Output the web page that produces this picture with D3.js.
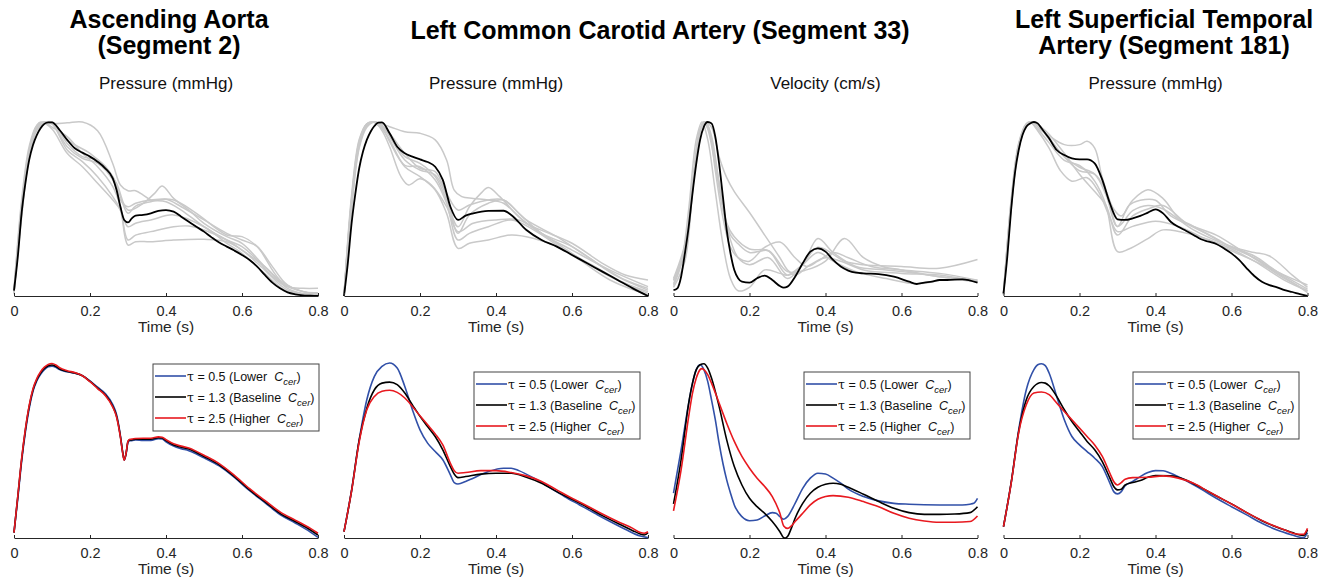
<!DOCTYPE html>
<html lang="en">
<head>
<meta charset="utf-8">
<script src="https://d3js.org/d3.v7.min.js"></script>
<title>Waveforms</title>
<style>
  body { margin: 0; background: #fff; }
  svg { display: block; font-family: 'Liberation Sans', Arial, Helvetica, sans-serif; }
</style>
</head>
<body>
<svg width="1331" height="582"></svg>
<script>

// ---------- data (time in s, amplitude normalised 0-100) ----------
var timeTicks = [0, 0.2, 0.4, 0.6, 0.8];
var tauValues = ["0.5", "1.3", "2.5"];
var tauNames = ["Lower", "Baseline", "Higher"];

// Ascending aorta pressure: grey = reference waveforms, black = model
var aortaPressRef = [
  [[0,3],[0.02,52],[0.04,84],[0.06,97],[0.08,100],[0.1,99],[0.14,99.5],[0.18,100],[0.22,95],[0.26,76],[0.28,63.8],[0.3,60.5],[0.32,60.5],[0.34,58],[0.36,55.2],[0.4,54.2],[0.44,49.4],[0.5,39.8],[0.56,32.2],[0.6,28.4],[0.64,20.7],[0.68,11.1],[0.72,5.4],[0.76,4.4],[0.8,4.4]],
  [[0,2],[0.02,48],[0.04,82],[0.06,96],[0.08,99.5],[0.1,100],[0.14,89.7],[0.2,82],[0.24,74.3],[0.27,64.8],[0.3,49.4],[0.34,53.3],[0.37,59],[0.39,63.2],[0.42,56.1],[0.46,49.4],[0.5,41.8],[0.56,34.1],[0.6,30.3],[0.66,16.9],[0.72,4.4],[0.76,1.5],[0.8,1.1]],
  [[0,1],[0.02,50],[0.04,83],[0.06,97],[0.08,100],[0.1,99],[0.14,83.9],[0.18,77.2],[0.22,68.6],[0.26,57.1],[0.28,49.4],[0.3,29.3],[0.32,31.2],[0.36,31.2],[0.42,32.2],[0.5,32.6],[0.56,31.2],[0.6,26.4],[0.66,14.9],[0.72,3.4],[0.8,0.6]],
  [[0,4],[0.02,55],[0.04,86],[0.06,98],[0.08,100],[0.1,97],[0.14,91.6],[0.18,82],[0.22,74.3],[0.26,62.8],[0.28,51.3],[0.3,32.2],[0.32,35],[0.36,37],[0.42,39.8],[0.46,40.2],[0.5,37.9],[0.56,32.2],[0.6,26.4],[0.66,16.9],[0.72,5.4],[0.8,1.1]],
  [[0,2],[0.02,45],[0.04,80],[0.06,95],[0.08,99],[0.1,100],[0.14,87.7],[0.18,80.1],[0.22,78.2],[0.26,68.6],[0.28,57.1],[0.3,47.5],[0.32,51.7],[0.36,54.2],[0.4,55.6],[0.44,51.3],[0.5,43.7],[0.56,36],[0.6,32.2],[0.64,28.4],[0.68,16.9],[0.72,6.3],[0.8,0.6]],
  [[0,3],[0.02,50],[0.04,84],[0.06,98],[0.07,100],[0.1,96],[0.14,82],[0.18,74.3],[0.22,64.8],[0.26,55.2],[0.28,49.4],[0.3,39.8],[0.32,41.8],[0.36,43.7],[0.42,46.6],[0.5,39.8],[0.56,30.3],[0.6,24.5],[0.66,13],[0.72,2.5],[0.8,0.6]],
  [[0,2],[0.02,47],[0.04,81],[0.06,96],[0.08,100],[0.1,99],[0.14,85.8],[0.18,79.1],[0.22,76.2],[0.26,66.7],[0.28,55.2],[0.3,51.3],[0.32,53.3],[0.36,55.2],[0.42,55.2],[0.48,47.5],[0.56,35.1],[0.6,34.1],[0.64,28.4],[0.7,9.2],[0.76,2.5],[0.8,1.9]]
];
var aortaPressSim = [[0,3.1],[0.01,22.6],[0.02,47.5],[0.03,64.8],[0.04,78.2],[0.05,86.8],[0.06,92.5],[0.07,96.4],[0.08,98.9],[0.09,99.8],[0.1,99.8],[0.12,95.4],[0.14,89.7],[0.16,84.9],[0.18,82.4],[0.2,80.1],[0.22,77.2],[0.24,73.4],[0.26,67.6],[0.27,60.9],[0.28,51.3],[0.29,43.7],[0.3,42.3],[0.31,44.6],[0.32,46.2],[0.34,46.6],[0.36,47.5],[0.38,48.9],[0.4,49.4],[0.42,48.5],[0.44,45.6],[0.46,42.7],[0.48,39.8],[0.5,37],[0.52,33.7],[0.54,30.7],[0.56,28.4],[0.58,26.1],[0.6,23.6],[0.62,20.7],[0.64,16.9],[0.66,12.1],[0.68,7.7],[0.7,4.4],[0.72,2.1],[0.74,1],[0.76,0.4],[0.78,0.2],[0.8,0]];

// Left common carotid pressure
var carotidPressRef = [
  [[0,0],[0.02,58],[0.04,90],[0.06,99],[0.08,100],[0.12,97.3],[0.16,94.4],[0.2,93.5],[0.24,89.7],[0.27,78.2],[0.29,60.9],[0.31,57.1],[0.34,56.1],[0.38,55.2],[0.42,53.3],[0.48,41.8],[0.54,36],[0.6,30.3],[0.68,18.8],[0.74,12.1],[0.8,9.2]],
  [[0,0],[0.02,52],[0.04,86],[0.06,98],[0.08,100],[0.1,97],[0.12,92.5],[0.16,80.1],[0.2,76.2],[0.24,68.6],[0.27,55.2],[0.3,39.8],[0.33,51.3],[0.36,59],[0.38,62.3],[0.41,57.1],[0.46,45.6],[0.52,36],[0.6,28.4],[0.68,16.9],[0.74,9.2],[0.8,4.4]],
  [[0,0],[0.02,56],[0.04,89],[0.06,99],[0.075,100],[0.1,96],[0.12,89.7],[0.16,74.3],[0.2,68.6],[0.24,60.9],[0.27,47.5],[0.3,27.4],[0.33,30.3],[0.38,32.2],[0.44,35.1],[0.5,33.1],[0.56,28.4],[0.62,20.7],[0.7,9.2],[0.8,0.6]],
  [[0,0],[0.02,54],[0.04,87],[0.06,98],[0.08,100],[0.1,95],[0.12,85.8],[0.15,68.6],[0.17,63.8],[0.2,67.4],[0.23,63.8],[0.27,51.3],[0.3,37],[0.34,41.8],[0.4,43.7],[0.46,43.7],[0.52,36],[0.6,24.5],[0.7,11.1],[0.8,1.5]],
  [[0,0],[0.02,50],[0.04,85],[0.06,97],[0.08,100],[0.1,98],[0.12,91.6],[0.16,78.2],[0.2,72.4],[0.24,69.5],[0.27,57.1],[0.3,36],[0.33,46.6],[0.38,53.3],[0.42,55.2],[0.46,47.5],[0.52,36],[0.6,26.4],[0.7,14.9],[0.8,5.4]],
  [[0,0],[0.02,53],[0.04,87],[0.06,98],[0.08,100],[0.1,97],[0.12,88.7],[0.16,75.1],[0.2,74.3],[0.24,66.7],[0.27,53.3],[0.3,32.2],[0.33,36],[0.38,39.8],[0.44,43.7],[0.5,37.9],[0.58,26.4],[0.66,16.9],[0.74,7.3],[0.8,2.5]],
  [[0,0],[0.02,55],[0.04,88],[0.06,99],[0.08,100],[0.1,98],[0.12,93.5],[0.16,82],[0.2,73.4],[0.24,71.5],[0.27,59],[0.3,49.4],[0.33,52.3],[0.38,55.2],[0.42,55.2],[0.48,43.7],[0.56,34.1],[0.64,22.6],[0.72,11.1],[0.8,3.4]]
];
var carotidPressSim = [[0,0],[0.01,18.8],[0.02,41.8],[0.03,59],[0.04,73.4],[0.05,83],[0.06,89.7],[0.07,94.4],[0.08,97.7],[0.09,99.6],[0.1,99.8],[0.12,93.5],[0.14,85.8],[0.16,82],[0.18,80.1],[0.2,78.5],[0.22,77],[0.24,74.3],[0.26,66.7],[0.28,51.3],[0.3,43.7],[0.32,46.2],[0.34,47.5],[0.38,48.9],[0.42,49],[0.44,46.6],[0.48,37.9],[0.52,32.2],[0.56,28.4],[0.6,23.6],[0.64,18.8],[0.68,14],[0.72,9.2],[0.76,4.4],[0.8,0]];

// Left common carotid velocity
var carotidVelRef = [
  [[0,9],[0.03,25],[0.06,80],[0.08,100],[0.1,97],[0.12,80],[0.14,68],[0.16,60],[0.2,48],[0.24,35],[0.28,22],[0.3,15],[0.32,12],[0.36,18],[0.4,22],[0.44,20],[0.5,15],[0.6,13],[0.7,12],[0.8,8]],
  [[0,5],[0.03,20],[0.05,60],[0.07,95],[0.08,100],[0.09,96],[0.11,75],[0.13,50],[0.15,35],[0.17,30],[0.2,25],[0.25,26],[0.3,14],[0.35,15],[0.4,20],[0.45,33],[0.5,22],[0.55,17],[0.6,15],[0.7,11],[0.8,8]],
  [[0,10],[0.03,30],[0.05,65],[0.07,95],[0.085,100],[0.1,92],[0.12,65],[0.14,40],[0.17,22],[0.2,18],[0.25,22],[0.3,10],[0.34,18],[0.38,28],[0.45,20],[0.5,18],[0.6,17],[0.7,16],[0.8,21]],
  [[0,9],[0.03,28],[0.05,62],[0.07,96],[0.08,100],[0.095,94],[0.11,72],[0.13,45],[0.15,28],[0.17,22],[0.2,20],[0.24,28],[0.28,31],[0.32,22],[0.35,17],[0.38,20],[0.42,25],[0.46,22],[0.52,17],[0.6,15],[0.7,13],[0.8,9]],
  [[0,6],[0.02,18],[0.04,50],[0.06,90],[0.075,100],[0.09,90],[0.11,60],[0.13,30],[0.15,10],[0.17,3],[0.2,5],[0.24,15],[0.28,13],[0.3,12],[0.34,18],[0.38,25],[0.42,20],[0.48,14],[0.56,10],[0.64,7],[0.7,9]],
  [[0,7],[0.03,26],[0.05,63],[0.07,96],[0.085,100],[0.1,90],[0.12,65],[0.14,42],[0.16,34],[0.2,27],[0.25,26],[0.3,12],[0.34,18],[0.38,33],[0.42,25],[0.48,17],[0.56,15],[0.64,13],[0.7,11],[0.75,10],[0.8,9]]
];
var carotidVelSim = [[0,3.4],[0.01,4.4],[0.02,11.1],[0.03,24.5],[0.04,39.8],[0.05,59],[0.06,76.2],[0.07,89.7],[0.08,97.3],[0.09,100],[0.1,99.2],[0.11,91.6],[0.12,76.2],[0.13,57.1],[0.14,37.9],[0.15,24.5],[0.16,14.9],[0.17,10.2],[0.18,8.2],[0.2,7.7],[0.22,10.2],[0.24,11.7],[0.26,9.2],[0.28,5.7],[0.29,4.8],[0.3,5.4],[0.32,11.1],[0.34,18.8],[0.36,25.5],[0.38,27.4],[0.4,25.5],[0.42,20.7],[0.44,16.9],[0.46,14.6],[0.48,13.4],[0.5,13],[0.54,12.6],[0.58,11.1],[0.62,8.2],[0.64,6.9],[0.66,7.7],[0.68,8.2],[0.7,9.2],[0.72,9.2],[0.76,9.6],[0.8,7.7]];

// Left superficial temporal pressure
var temporalPressRef = [
  [[0,1],[0.02,55],[0.04,88],[0.06,99],[0.075,100],[0.1,95],[0.12,92],[0.16,87],[0.2,87],[0.22,88.9],[0.24,85],[0.26,68],[0.29,50],[0.31,46],[0.34,55],[0.38,61],[0.42,56],[0.46,45],[0.5,40],[0.56,33],[0.6,28],[0.66,22],[0.72,14],[0.8,6.3]],
  [[0,1],[0.02,50],[0.04,85],[0.06,98],[0.07,100],[0.09,96],[0.12,88],[0.16,78],[0.2,75],[0.24,66],[0.27,52],[0.3,25.5],[0.33,27],[0.38,33],[0.42,38],[0.5,35],[0.58,29],[0.66,20],[0.74,9],[0.8,3]],
  [[0,1],[0.02,52],[0.04,86],[0.06,98],[0.08,100],[0.1,96],[0.12,90],[0.16,80],[0.2,72],[0.24,70],[0.27,60],[0.3,40],[0.33,52],[0.36,55],[0.4,55],[0.44,46],[0.5,40],[0.56,35],[0.62,27],[0.7,16],[0.78,5],[0.8,2]],
  [[0,1],[0.02,54],[0.04,87],[0.06,99],[0.07,100],[0.09,95],[0.12,85],[0.15,72],[0.18,66],[0.22,68],[0.25,60],[0.28,45],[0.3,37],[0.34,40],[0.4,43],[0.46,40],[0.52,34],[0.6,26],[0.68,18],[0.74,10],[0.8,3]],
  [[0,1],[0.02,51],[0.04,85],[0.06,98],[0.08,100],[0.1,97],[0.12,93],[0.16,82],[0.2,70],[0.24,60],[0.27,52],[0.3,35],[0.34,46],[0.38,50],[0.42,52],[0.48,42],[0.54,35],[0.6,28],[0.66,23],[0.72,14],[0.8,4]],
  [[0,1],[0.02,53],[0.04,87],[0.06,98],[0.08,100],[0.1,96],[0.12,91],[0.16,80],[0.2,74],[0.24,70],[0.27,58],[0.3,40],[0.34,49],[0.38,52],[0.42,50],[0.5,38],[0.58,30],[0.62,27],[0.66,25],[0.7,23],[0.76,12],[0.8,5]]
];
var temporalPressSim = [[0,1.5],[0.01,22.6],[0.02,49.4],[0.03,70.5],[0.04,83.9],[0.05,92.5],[0.06,97.3],[0.07,99.2],[0.08,100],[0.09,99.2],[0.1,96.4],[0.12,90.6],[0.14,83.9],[0.16,81],[0.18,79.1],[0.2,78.5],[0.22,78.5],[0.24,76.2],[0.26,66.7],[0.28,53.3],[0.3,44.1],[0.32,43.7],[0.34,44.6],[0.36,46],[0.38,47.9],[0.4,49.8],[0.42,47.5],[0.44,42.7],[0.46,39.8],[0.48,37.5],[0.5,35.1],[0.52,32.6],[0.54,31.2],[0.56,29.9],[0.58,27.4],[0.6,24.5],[0.62,20.7],[0.64,15.9],[0.66,11.5],[0.68,8.2],[0.7,6.3],[0.72,5],[0.74,3.4],[0.76,2.3],[0.78,1.1],[0.8,0]];

// Bottom row: tau = 0.5 / 1.3 / 2.5
var aortaTau05 = [[0,3.1],[0.01,22.5],[0.02,43.5],[0.03,60.5],[0.04,74],[0.05,83.8],[0.06,89.8],[0.07,93.6],[0.08,96.2],[0.09,97.8],[0.1,98.2],[0.11,97.6],[0.12,96.2],[0.14,95],[0.16,94.2],[0.18,92.8],[0.2,89.8],[0.22,86.2],[0.24,82.6],[0.26,76.2],[0.27,70.5],[0.28,58.5],[0.285,50.5],[0.29,44.5],[0.295,48],[0.3,54.5],[0.305,55.6],[0.31,55.6],[0.32,56],[0.34,55.8],[0.36,55.8],[0.38,56.8],[0.39,56.6],[0.4,55],[0.42,52.5],[0.44,51],[0.46,49.9],[0.48,48],[0.5,45.8],[0.54,41.2],[0.58,34.6],[0.62,27],[0.66,20.2],[0.7,13.4],[0.74,8.6],[0.78,3.4],[0.8,0.4]];
var aortaTau13 = [[0,3.1],[0.01,23.7],[0.02,44.7],[0.03,61.8],[0.04,75.2],[0.05,84.7],[0.06,90.5],[0.07,94.3],[0.08,96.9],[0.09,98.5],[0.1,98.9],[0.11,98.1],[0.12,96.6],[0.14,95.2],[0.16,94.3],[0.18,92.7],[0.2,89.5],[0.22,85.7],[0.24,81.9],[0.26,75.2],[0.27,69.5],[0.28,58],[0.285,50.4],[0.29,44.7],[0.295,48.5],[0.3,55.2],[0.305,56.1],[0.31,56.1],[0.32,56.5],[0.34,56.5],[0.36,56.5],[0.38,57.3],[0.39,57.1],[0.4,55.7],[0.42,53.2],[0.44,51.9],[0.46,50.8],[0.48,48.9],[0.5,46.6],[0.54,41.8],[0.58,35.1],[0.62,27.5],[0.66,20.8],[0.7,14.1],[0.74,9.4],[0.78,4.6],[0.8,1.7]];
var aortaTau25 = [[0,3.1],[0.01,24],[0.02,45.2],[0.03,62.4],[0.04,75.8],[0.05,85.3],[0.06,91.1],[0.07,95],[0.08,97.6],[0.09,99.2],[0.1,99.7],[0.11,98.9],[0.12,97.3],[0.14,95.6],[0.16,94.5],[0.18,92.7],[0.2,89.3],[0.22,85.4],[0.24,81.5],[0.26,74.8],[0.27,69],[0.28,57.6],[0.285,50],[0.29,44.4],[0.295,48.5],[0.3,55.4],[0.305,56.4],[0.31,56.5],[0.32,56.9],[0.34,57],[0.36,57],[0.38,57.8],[0.39,57.6],[0.4,56.2],[0.42,53.8],[0.44,52.5],[0.46,51.4],[0.48,49.5],[0.5,47.3],[0.54,42.5],[0.58,35.8],[0.62,28.2],[0.66,21.5],[0.7,14.9],[0.74,10.2],[0.78,5.5],[0.8,2.7]];

var carotidPressTau05 = [[0,3.6],[0.02,27.5],[0.04,56.1],[0.06,79],[0.08,92.4],[0.1,98.1],[0.12,100],[0.14,97.1],[0.16,86.6],[0.18,73.3],[0.2,61.8],[0.22,54.2],[0.24,49.4],[0.26,44.7],[0.28,36.1],[0.29,31.7],[0.3,30.9],[0.32,32.3],[0.34,34.2],[0.38,38],[0.42,39.9],[0.44,39.9],[0.46,38.5],[0.5,34.2],[0.54,29],[0.58,23.7],[0.62,18.9],[0.66,14.1],[0.7,9.4],[0.74,5],[0.78,1.1],[0.8,0.2]];
var carotidPressTau13 = [[0,3.6],[0.02,27],[0.04,56],[0.06,74.2],[0.08,84.7],[0.1,88.5],[0.12,89.1],[0.14,87.6],[0.16,82.8],[0.18,76.1],[0.2,69.5],[0.22,63.7],[0.24,58],[0.26,50.4],[0.28,40.8],[0.29,36.6],[0.3,34.5],[0.32,35.1],[0.36,36.5],[0.4,37],[0.44,37],[0.48,34.7],[0.52,31.3],[0.56,26.5],[0.6,22.1],[0.64,17.6],[0.68,12.8],[0.72,8.4],[0.76,4.2],[0.78,2.3],[0.79,1.7],[0.8,3.1]];
var carotidPressTau25 = [[0,3.6],[0.02,27],[0.04,55],[0.06,73.3],[0.08,80.9],[0.1,83.8],[0.12,84.4],[0.14,83.2],[0.16,80],[0.18,75.2],[0.2,69.8],[0.22,64.7],[0.24,59.5],[0.26,53.2],[0.28,42.7],[0.29,38.5],[0.3,37],[0.32,37.4],[0.36,38.5],[0.4,38.5],[0.44,37.4],[0.48,35.5],[0.52,32.3],[0.56,27.5],[0.6,22.7],[0.64,18.3],[0.68,13.7],[0.72,9.4],[0.76,5.5],[0.78,3.1],[0.79,2.7],[0.8,3.6]];

var carotidVelTau05 = [[0,25.6],[0.02,50.4],[0.04,77.1],[0.05,88.5],[0.06,96.2],[0.07,99],[0.08,96.2],[0.09,89.5],[0.1,79],[0.11,67.6],[0.12,54.2],[0.13,42.7],[0.14,33.2],[0.15,25.6],[0.16,18.9],[0.18,12.2],[0.2,9.9],[0.22,10.3],[0.24,12.6],[0.26,14.5],[0.27,14.1],[0.28,12.2],[0.29,10.7],[0.3,12.2],[0.32,19.8],[0.34,28.4],[0.36,34.2],[0.38,37],[0.4,36.6],[0.42,34.2],[0.44,31.3],[0.46,27.9],[0.5,23.7],[0.54,21.2],[0.58,19.8],[0.62,19.3],[0.7,18.9],[0.76,18.9],[0.78,19.3],[0.79,19.8],[0.8,22.7]];
var carotidVelTau13 = [[0,19.5],[0.02,44.7],[0.04,77.1],[0.05,88.5],[0.06,96.2],[0.07,99],[0.08,99.6],[0.09,97.1],[0.1,91.4],[0.11,83.8],[0.12,75.2],[0.14,56.1],[0.16,40.8],[0.18,30.3],[0.2,22.7],[0.22,17.9],[0.24,14.1],[0.26,9.4],[0.28,3.6],[0.29,0.2],[0.295,0],[0.3,0.8],[0.31,5.5],[0.32,11.3],[0.34,19.8],[0.36,25.6],[0.38,29],[0.4,30.7],[0.42,31.3],[0.44,30.7],[0.46,29],[0.5,25],[0.54,20.8],[0.58,17],[0.62,14.5],[0.66,13.5],[0.7,13.5],[0.74,13.7],[0.78,14.5],[0.8,17.9]];
var carotidVelTau25 = [[0,15.5],[0.02,38.9],[0.04,69.5],[0.05,82.8],[0.06,91.4],[0.07,96.2],[0.075,96.8],[0.08,96.2],[0.09,93.3],[0.1,88.5],[0.12,77.1],[0.14,65.6],[0.16,55.2],[0.18,46.6],[0.2,39.9],[0.22,34.2],[0.24,29.4],[0.26,23.7],[0.28,14.1],[0.29,6.9],[0.3,5.5],[0.31,6.9],[0.32,9.4],[0.34,14.1],[0.36,18.9],[0.38,22.1],[0.4,23.7],[0.42,24.2],[0.46,23.3],[0.5,20.8],[0.54,17.9],[0.58,14.1],[0.62,11.3],[0.66,9.7],[0.7,9],[0.74,9],[0.78,9.4],[0.8,12.6]];

var temporalTau05 = [[0,6.5],[0.02,31.3],[0.04,61.8],[0.06,84.7],[0.08,96.2],[0.09,99],[0.1,99.6],[0.11,98.5],[0.12,94.3],[0.14,80.9],[0.16,67.6],[0.18,58],[0.2,53.2],[0.22,49.4],[0.24,45.6],[0.26,40.8],[0.28,31.3],[0.29,26.5],[0.3,25.2],[0.31,26.5],[0.32,29.8],[0.34,32.3],[0.36,35.1],[0.38,37.4],[0.4,38.5],[0.42,38.4],[0.44,37],[0.48,32.8],[0.52,27.9],[0.56,22.7],[0.6,17.9],[0.64,13.2],[0.68,8.4],[0.72,4.6],[0.76,1.7],[0.78,0.4],[0.79,0.2],[0.8,3.1]];
var temporalTau13 = [[0,6.5],[0.02,31.3],[0.04,60.9],[0.06,79],[0.08,86.6],[0.1,88.9],[0.11,88.5],[0.12,87],[0.14,80.9],[0.16,73.3],[0.18,66.6],[0.2,60.9],[0.22,55.2],[0.24,50.4],[0.26,43.7],[0.28,34.2],[0.29,29.4],[0.3,27.5],[0.31,27.9],[0.32,30.3],[0.34,31.7],[0.36,32.8],[0.38,34.7],[0.4,35.7],[0.44,35.5],[0.48,33.2],[0.52,28.8],[0.56,24],[0.6,19.5],[0.64,14.5],[0.68,9.9],[0.72,6.1],[0.76,3.1],[0.78,1.7],[0.79,1.5],[0.8,4.6]];
var temporalTau25 = [[0,6.5],[0.02,31],[0.04,60.3],[0.06,76.1],[0.08,82.8],[0.1,83.4],[0.12,81.9],[0.14,77.1],[0.16,72.3],[0.18,67.6],[0.2,62.8],[0.22,58],[0.24,53.2],[0.26,46.6],[0.28,37],[0.29,32.3],[0.3,30.3],[0.31,31.7],[0.32,33.6],[0.34,34.5],[0.38,34.7],[0.42,35.5],[0.46,34.2],[0.5,31.3],[0.54,26.5],[0.58,21.8],[0.62,17],[0.66,12.2],[0.7,8],[0.74,4.6],[0.77,2.3],[0.79,2.1],[0.8,5.5]];

// ---------- layout ----------
var svg = d3.select("svg");
var plotW = 304;
var panelLeft = [14, 344, 673.5, 1003.5];
var topRow = {y0: 296, y1: 122};
var botRow = {y0: 538, y1: 363};
var seriesColors = ["#3150a8", "#000000", "#e8191f"];
var axisColor = "#262626";

var topPanels = [
  {sub: "Pressure (mmHg)", ref: aortaPressRef, sim: aortaPressSim},
  {sub: "Pressure (mmHg)", ref: carotidPressRef, sim: carotidPressSim},
  {sub: "Velocity (cm/s)", ref: carotidVelRef, sim: carotidVelSim},
  {sub: "Pressure (mmHg)", ref: temporalPressRef, sim: temporalPressSim}
];
var bottomPanels = [
  {curves: [aortaTau05, aortaTau13, aortaTau25], legend: [153, 364]},
  {curves: [carotidPressTau05, carotidPressTau13, carotidPressTau25], legend: [474, 372]},
  {curves: [carotidVelTau05, carotidVelTau13, carotidVelTau25], legend: [804, 372]},
  {curves: [temporalTau05, temporalTau13, temporalTau25], legend: [1133, 372]}
];

function drawAxis(x, yPos) {
  var g = svg.append("g")
    .attr("transform", "translate(0," + yPos + ")")
    .call(d3.axisBottom(x).tickValues(timeTicks).tickFormat(d3.format(""))
      .tickSizeInner(-3).tickSizeOuter(0).tickPadding(10));
  g.attr("font-family", null).attr("font-size", 14.5);
  g.select(".domain").attr("stroke", axisColor);
  g.selectAll(".tick line").attr("stroke", axisColor);
  g.selectAll(".tick text").attr("fill", axisColor);

  svg.append("text")
    .attr("x", (x.range()[0] + x.range()[1]) / 2)
    .attr("y", yPos + 36)
    .attr("text-anchor", "middle")
    .attr("font-size", 15.5)
    .attr("fill", axisColor)
    .text("Time (s)");
}

// top row: reference waveforms + model
topPanels.forEach(function (p, i) {
  var x = d3.scaleLinear().domain([0, 0.8]).range([panelLeft[i], panelLeft[i] + plotW]);
  var y = d3.scaleLinear().domain([0, 100]).range([topRow.y0, topRow.y1]);
  var refLine = d3.line()
    .x(function (d) { return x(d[0]); })
    .y(function (d) { return y(d[1]); })
    .curve(d3.curveCatmullRom.alpha(0.5));
  var line = d3.line()
    .x(function (d) { return x(d[0]); })
    .y(function (d) { return y(d[1]); })
    .curve(d3.curveMonotoneX);

  svg.append("g").selectAll("path")
    .data(p.ref)
    .enter().append("path")
    .attr("d", refLine)
    .attr("fill", "none")
    .attr("stroke", "#c9c9c9")
    .attr("stroke-width", 1.5);

  svg.append("path")
    .datum(p.sim)
    .attr("d", line)
    .attr("fill", "none")
    .attr("stroke", "#000")
    .attr("stroke-width", 1.8);

  drawAxis(x, topRow.y0);

  svg.append("text")
    .attr("x", panelLeft[i] + plotW / 2)
    .attr("y", 89)
    .attr("text-anchor", "middle")
    .attr("font-size", 17)
    .attr("fill", "#111")
    .text(p.sub);
});

// bottom row: tau sweep
bottomPanels.forEach(function (p, i) {
  var x = d3.scaleLinear().domain([0, 0.8]).range([panelLeft[i], panelLeft[i] + plotW]);
  var y = d3.scaleLinear().domain([0, 100]).range([botRow.y0, botRow.y1]);
  var line = d3.line()
    .x(function (d) { return x(d[0]); })
    .y(function (d) { return y(d[1]); })
    .curve(d3.curveMonotoneX);

  drawAxis(x, botRow.y0);

  svg.append("g").selectAll("path")
    .data(p.curves)
    .enter().append("path")
    .attr("d", line)
    .attr("fill", "none")
    .attr("stroke", function (d, k) { return seriesColors[k]; })
    .attr("stroke-width", 1.6);

  // legend
  var bx = p.legend[0], by = p.legend[1];
  var lg = svg.append("g");
  lg.append("rect")
    .attr("x", bx).attr("y", by)
    .attr("width", 166).attr("height", 67)
    .attr("fill", "#fff")
    .attr("stroke", "#444")
    .attr("stroke-width", 1);

  tauValues.forEach(function (tv, k) {
    var ry = by + 12 + k * 21;
    lg.append("line")
      .attr("x1", bx + 2).attr("x2", bx + 33)
      .attr("y1", ry).attr("y2", ry)
      .attr("stroke", seriesColors[k])
      .attr("stroke-width", 1.6);
    var t = lg.append("text")
      .attr("x", bx + 34).attr("y", ry + 4.5)
      .attr("font-size", 12.5)
      .attr("fill", "#111")
      .style("white-space", "pre");
    t.append("tspan").attr("font-family", "'DejaVu Serif', serif").text("\u03c4");
    t.append("tspan").text(" = " + tv + " (" + tauNames[k] + "  ");
    t.append("tspan").attr("font-style", "italic").text("C");
    t.append("tspan").attr("font-style", "italic").attr("font-size", 9.5).attr("dy", 4).text("cer");
    t.append("tspan").attr("dy", -4).text(")");
  });
});

// titles
var titles = [
  {x: 169, lines: ["Ascending Aorta", "(Segment 2)"], y: 28},
  {x: 660, lines: ["Left Common Carotid Artery (Segment 33)"], y: 39},
  {x: 1164, lines: ["Left Superficial Temporal", "Artery (Segment 181)"], y: 28}
];
titles.forEach(function (t) {
  var txt = svg.append("text")
    .attr("x", t.x).attr("y", t.y)
    .attr("text-anchor", "middle")
    .attr("font-size", 25)
    .attr("font-weight", "bold")
    .attr("fill", "#000");
  t.lines.forEach(function (l, k) {
    txt.append("tspan").attr("x", t.x).attr("dy", k === 0 ? 0 : 26).text(l);
  });
});

</script>
</body>
</html>
